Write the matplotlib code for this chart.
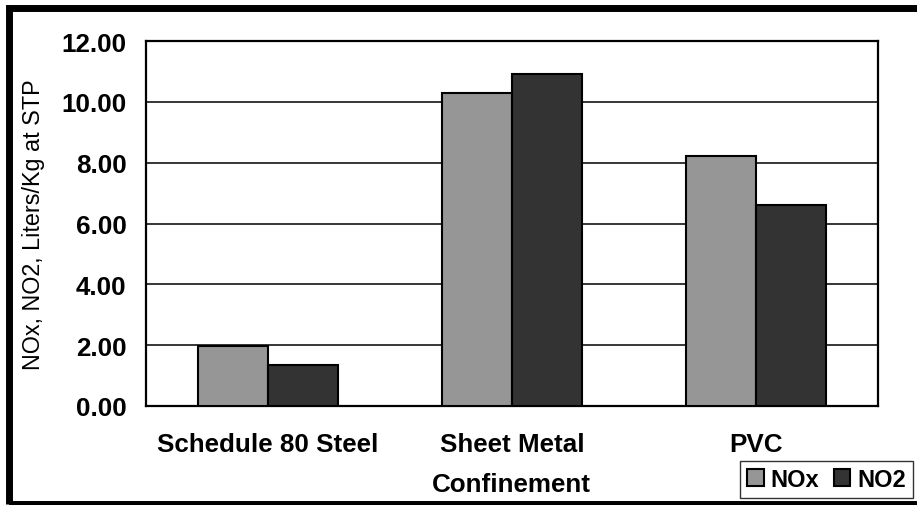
import matplotlib
matplotlib.use("Agg")
import matplotlib.pyplot as plt
import numpy as np
from matplotlib.patches import Rectangle

categories = ["Schedule 80 Steel", "Sheet Metal", "PVC"]
nox = [1.96, 10.30, 8.22]
no2 = [1.35, 10.92, 6.60]
series_names = ["NOx", "NO2"]
yticks = [0, 2, 4, 6, 8, 10, 12]
ytick_labels = ["0.00", "2.00", "4.00", "6.00", "8.00", "10.00", "12.00"]

plt.rcParams['font.family'] = ['Liberation Sans', 'DejaVu Sans']

W, H = 917, 506
fig = plt.figure(figsize=(W/100, H/100), dpi=100)
ax = fig.add_axes([146/W, 1-407/H, (878-146)/W, (407-42)/H])

x = np.arange(len(categories))
bw = 0.285
ax.bar(x - bw/2, nox, bw, color="#969696", edgecolor="black", linewidth=1.5, label=series_names[0], zorder=3)
ax.bar(x + bw/2, no2, bw, color="#333333", edgecolor="black", linewidth=1.5, label=series_names[1], zorder=3)

ax.set_xlim(-0.5, 2.5)
ax.set_ylim(0, 12)
ax.set_yticks(yticks)
ax.set_yticklabels(ytick_labels, fontsize=18.7, fontweight="bold")
ax.set_xticks(x)
ax.set_xticklabels(categories, fontsize=18.7, fontweight="bold")
ax.tick_params(axis="y", length=0, pad=14)
ax.tick_params(axis="x", length=0, pad=19)
ax.yaxis.grid(True, color="black", linewidth=1.1, zorder=0)
ax.set_axisbelow(True)
for s in ax.spines.values():
    s.set_linewidth(1.6)
    s.set_color("black")

ax.set_ylabel("NOx, NO2, Liters/Kg at STP", fontsize=16.8, labelpad=12)
fig.text(511/W, 1-485/H, "Confinement", fontsize=18.7, fontweight="bold", ha="center", va="center")

leg = fig.legend(loc="lower right", bbox_to_anchor=(913/W, 1-499/H), prop={"weight": "bold", "size": 17},
                 frameon=True, fancybox=False, edgecolor="black", handlelength=0.7, handleheight=0.7,
                 handletextpad=0.3, columnspacing=0.6, ncol=2, borderpad=0.3, borderaxespad=0)
leg.get_frame().set_linewidth(1.0)

fig.patches.append(Rectangle((8.5/W, 1-505/H), 1.2, (505-8.5)/H, transform=fig.transFigure, fill=False,
                             edgecolor="black", linewidth=5.0))

fig.savefig("out.png", dpi=100)
